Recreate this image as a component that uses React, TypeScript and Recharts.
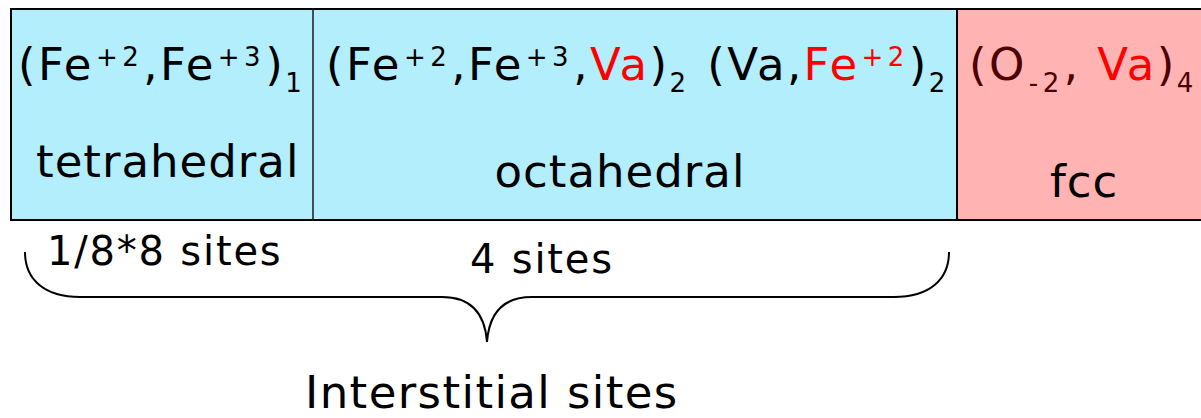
import React from 'react';
import { BarChart, Bar, XAxis, YAxis, LabelList } from 'recharts';

// widths of the three sublattice boxes (px units)
const rows = ['spinel'];
const tetrahedralWidth = [302];
const octahedralWidth = [644];
const fccWidth = [248];

const sublatticeNames = ['tetrahedral', 'octahedral', 'fcc'];
const siteCounts = ['1/8*8 sites', '4 sites'];
const groupLabel = 'Interstitial sites';

const data = rows.map((name, i) => ({
  name,
  tet: tetrahedralWidth[i],
  oct: octahedralWidth[i],
  fcc: fccWidth[i],
}));

const FONT = '"DejaVu Sans", Verdana, sans-serif';
const BIG = 45;
const SMALL = 26;
const LS = 1;
const FORMULA_LS = 2.4;
const SMALL_LS = 4.5;
const BLUE = '#b3eefd';
const PINK = '#ffb3b3';
const RED = '#ff0000';
const DARK_RED = '#4d0000';

const txt = { fontFamily: FONT, fontSize: BIG, letterSpacing: LS } as const;
const formula = { fontFamily: FONT, fontSize: BIG, letterSpacing: FORMULA_LS } as const;
const sm = { fontSize: SMALL, letterSpacing: SMALL_LS } as const;
const bg = { fontSize: BIG, letterSpacing: FORMULA_LS } as const;

function geom(props: any) {
  const vb = props.viewBox ?? {};
  return {
    x: Number(props.x ?? vb.x),
    y: Number(props.y ?? vb.y),
    width: Number(props.width ?? vb.width),
    height: Number(props.height ?? vb.height),
  };
}

function segment(leftWidth: number, leftColor: string) {
  return (props: any) => {
    const { x, y, width, height, fill } = props;
    return (
      <g>
        <rect x={x} y={y} width={width} height={height} fill={fill} />
        <line x1={x} x2={x + width} y1={y} y2={y} stroke="#000" strokeWidth={2} />
        <line x1={x} x2={x + width} y1={y + height} y2={y + height} stroke="#000" strokeWidth={2} />
        <line x1={x} x2={x} y1={y - 1} y2={y + height + 1} stroke={leftColor} strokeWidth={leftWidth} />
      </g>
    );
  };
}

function TetLabel(props: any) {
  const { x, y } = geom(props);
  return (
    <g>
      <text x={x + 7} y={y + 71} {...formula} fill="#000">
        (Fe
        <tspan {...sm} dx={2} dy={-14}>+2</tspan>
        <tspan {...bg} dy={14}>,Fe</tspan>
        <tspan {...sm} dx={2} dy={-14}>+3</tspan>
        <tspan {...bg} dy={14}>)</tspan>
        <tspan {...sm} dy={12}>1</tspan>
      </text>
      <text x={x + 25} y={y + 168} {...txt} fill="#000">{sublatticeNames[0]}</text>
      <text x={x + 36} y={y + 256} {...txt} fontSize={40} letterSpacing={1.8} fill="#000">{siteCounts[0]}</text>
    </g>
  );
}

function OctLabel(props: any) {
  const { x, y, width, height } = geom(props);
  const left = x - (width * tetrahedralWidth[0]) / octahedralWidth[0];
  const right = x + width;
  const L = left + 14;
  const R = right - 8;
  const M = (L + R) / 2;
  const top = y + height + 32;
  const mid = y + height + 77;
  const tip = y + height + 122;
  const brace =
    `M ${L} ${top} C ${L} ${mid - 17}, ${L + 20} ${mid}, ${L + 55} ${mid} ` +
    `L ${M - 45} ${mid} C ${M - 15} ${mid}, ${M - 2} ${mid + 18}, ${M} ${tip} ` +
    `C ${M + 2} ${mid + 18}, ${M + 15} ${mid}, ${M + 45} ${mid} ` +
    `L ${R - 55} ${mid} C ${R - 20} ${mid}, ${R} ${mid - 17}, ${R} ${top}`;
  return (
    <g>
      <text x={x + 13} y={y + 71} {...formula} fill="#000">
        (Fe
        <tspan {...sm} dx={2} dy={-14}>+2</tspan>
        <tspan {...bg} dy={14}>,Fe</tspan>
        <tspan {...sm} dx={2} dy={-14}>+3</tspan>
        <tspan {...bg} dy={14}>,</tspan>
        <tspan fill={RED}>Va</tspan>
        <tspan>)</tspan>
        <tspan {...sm} dy={12}>2</tspan>
        <tspan {...bg} dy={-12}> (Va,</tspan>
        <tspan fill={RED}>Fe</tspan>
        <tspan {...sm} dx={2} dy={-14} fill={RED}>+2</tspan>
        <tspan {...bg} dy={14}>)</tspan>
        <tspan {...sm} dy={12}>2</tspan>
      </text>
      <text x={x + width / 2 - 15} y={y + 178} {...txt} textAnchor="middle" fill="#000">
        {sublatticeNames[1]}
      </text>
      <text x={x + 157} y={y + 264} {...txt} fontSize={40} letterSpacing={1.8} fill="#000">{siteCounts[1]}</text>
      <path d={brace} fill="none" stroke="#000" strokeWidth={2} />
      <text x={M - 182} y={y + 399} {...txt} fontSize={45} letterSpacing={1.4} fill="#000">{groupLabel}</text>
    </g>
  );
}

function FccLabel(props: any) {
  const { x, y } = geom(props);
  return (
    <g>
      <text x={x + 12} y={y + 71} {...formula} fill={DARK_RED}>
        (O
        <tspan {...sm} dx={2} dy={12}>-2</tspan>
        <tspan {...bg} dy={-12}>, </tspan>
        <tspan fill={RED}>Va</tspan>
        <tspan>)</tspan>
        <tspan {...sm} dy={12}>4</tspan>
      </text>
      <text x={x + 93} y={y + 188} {...txt} fill="#000">{sublatticeNames[2]}</text>
    </g>
  );
}

export default function App() {
  return (
    <div style={{ position: 'absolute', left: 0, top: 0, width: 1201, height: 418, overflow: 'hidden', background: '#fff' }}>
      <BarChart
        width={1205}
        height={418}
        data={data}
        layout="vertical"
        margin={{ top: 9, right: 0, left: 11, bottom: 198 }}
        barCategoryGap={0}
      >
        <XAxis type="number" hide domain={[0, 1194]} />
        <YAxis type="category" dataKey="name" hide />
        <Bar dataKey="tet" stackId="s" fill={BLUE} isAnimationActive={false} shape={segment(2, '#000')}>
          <LabelList dataKey="tet" content={(p: any) => <TetLabel {...p} />} />
        </Bar>
        <Bar dataKey="oct" stackId="s" fill={BLUE} isAnimationActive={false} shape={segment(1.5, '#1a1a1a')}>
          <LabelList dataKey="oct" content={(p: any) => <OctLabel {...p} />} />
        </Bar>
        <Bar dataKey="fcc" stackId="s" fill={PINK} isAnimationActive={false} shape={segment(2, '#000')}>
          <LabelList dataKey="fcc" content={(p: any) => <FccLabel {...p} />} />
        </Bar>
      </BarChart>
    </div>
  );
}
